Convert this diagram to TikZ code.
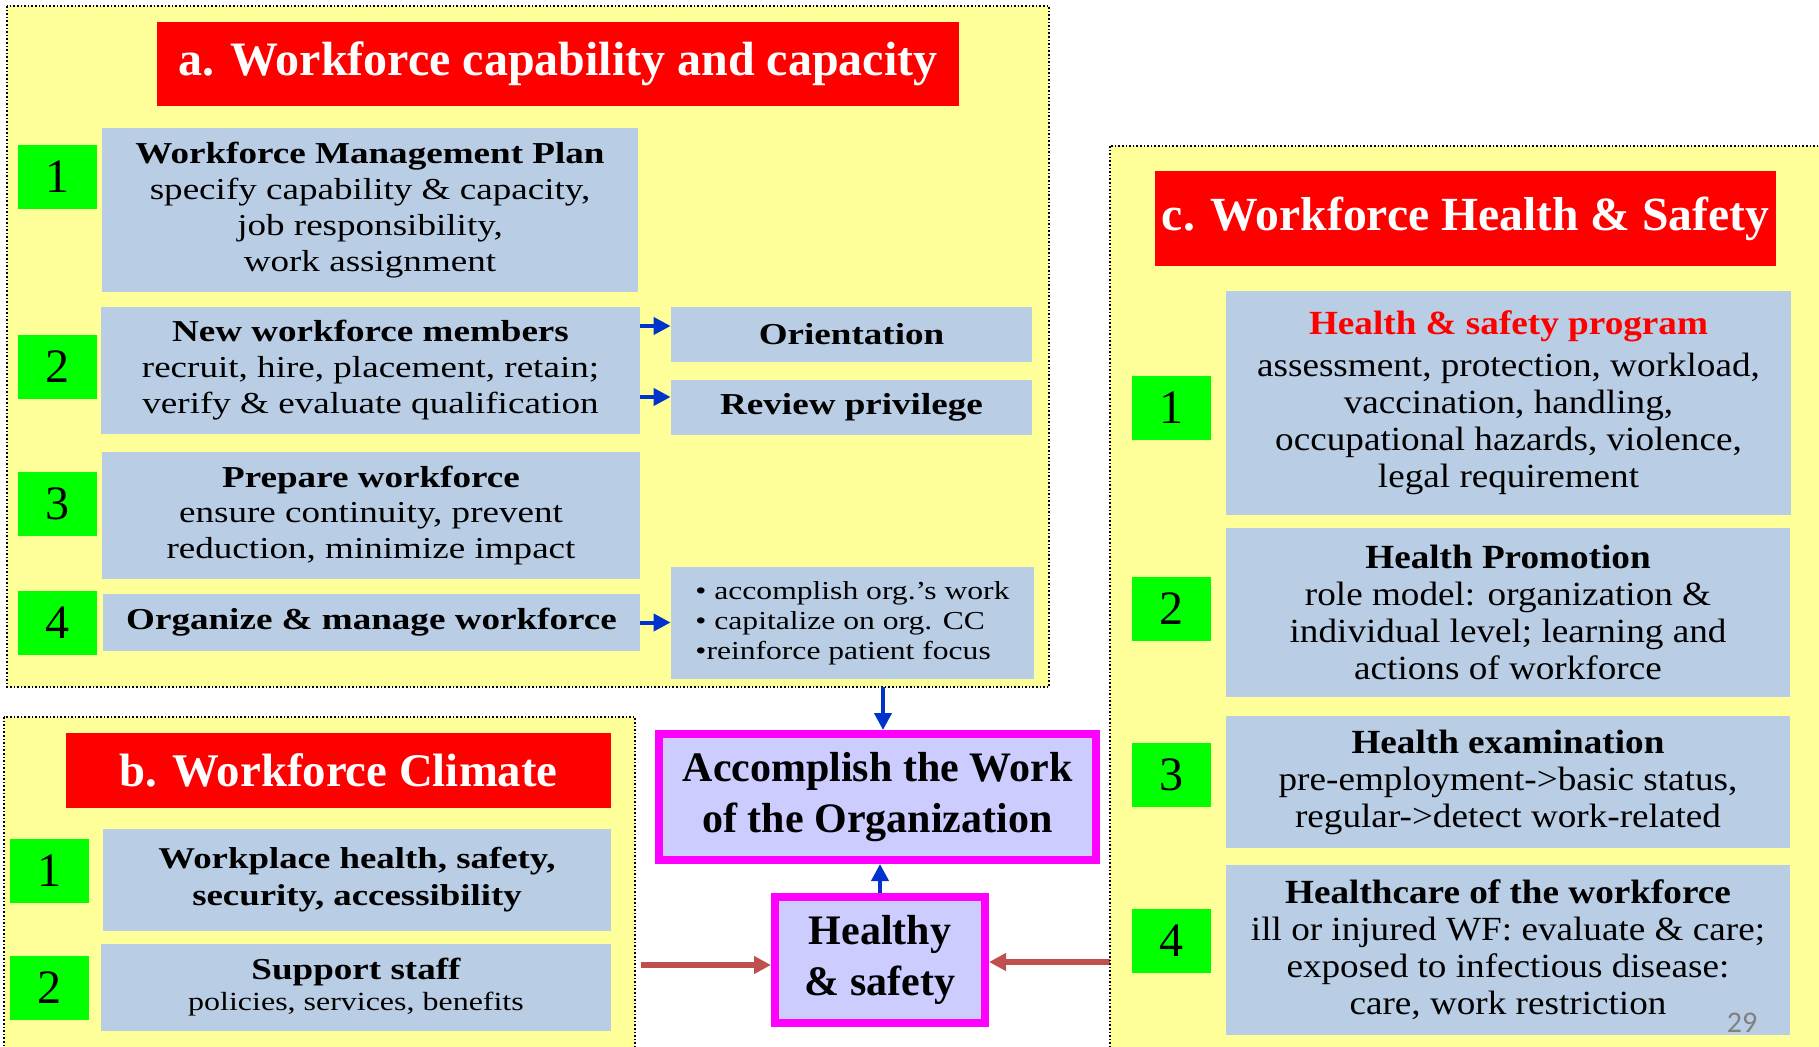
\documentclass[tikz,border=0pt]{standalone}
\usepackage{fontspec}
\setmainfont{Liberation Serif}
\newfontfamily\wfont[FakeStretch=1.22]{Liberation Serif}
\newfontfamily\cfont[FakeStretch=1.1]{Liberation Serif}
\newfontfamily\pnfont{Carlito}
\usetikzlibrary{arrows.meta}
\definecolor{panelyellow}{RGB}{255,255,153}
\definecolor{boxblue}{RGB}{185,205,229}
\definecolor{titlered}{RGB}{255,0,0}
\definecolor{numgreen}{RGB}{0,255,0}
\definecolor{goalfill}{RGB}{204,204,255}
\definecolor{goalline}{RGB}{255,0,255}
\definecolor{arrowblue}{RGB}{0,51,204}
\definecolor{arrowred}{RGB}{192,80,77}
\tikzset{
  panel/.style={fill=panelyellow, draw=black, densely dotted, line width=0.8pt},
  titlebox/.style={fill=titlered, text=white, inner sep=0pt,
    font=\bfseries\fontsize{24}{28}\selectfont},
  numbox/.style={fill=numgreen, minimum width=39.5pt, minimum height=32pt,
    inner sep=0pt, font=\fontsize{24}{28}\selectfont},
  itembox/.style={fill=boxblue, inner sep=0pt, align=center},
  afont/.style={font=\wfont\fontsize{15.2}{18}\selectfont},
  cfontsty/.style={font=\cfont\fontsize{16.9}{18.5}\selectfont},
  goalbox/.style={fill=goalfill, draw=goalline, line width=4pt, inner sep=0pt,
    align=center, font=\bfseries\fontsize{21}{25.5}\selectfont},
  bluearr/.style={->, draw=arrowblue, line width=2pt},
  redarr/.style={->, draw=arrowred, line width=3pt},
}
\begin{document}
\begin{tikzpicture}
  [x=0.5pt, y=-0.5pt, >={Triangle[length=8.5pt,width=8.5pt]}]
  \useasboundingbox (0,0) rectangle (1819,1047);
  % a. capability and capacity
  \draw[panel] (7,6) rectangle (1049,687);
  \node[titlebox, minimum width=401pt, minimum height=42pt] (titleA) at (558,64)
    {a. Workforce capability and capacity};
  \foreach \n/\y in {1/177,2/367,3/504,4/623}
    \node[numbox] (numA\n) at (57,\y) {\n};
  \node[itembox, afont, minimum width=268pt, minimum height=82pt] (planA) at (370,210)
    {\textbf{Workforce Management Plan}\\specify capability \& capacity,\\job responsibility,\\work assignment};
  \node[itembox, afont, minimum width=269.5pt, minimum height=63.5pt] (newwf) at (370.5,370.5)
    {\textbf{New workforce members}\\recruit, hire, placement, retain;\\verify \& evaluate qualification};
  \node[itembox, afont, minimum width=180.5pt, minimum height=27.5pt] (orient) at (851.5,334.5)
    {\textbf{Orientation}};
  \node[itembox, afont, minimum width=180.5pt, minimum height=27.5pt] (review) at (851.5,407.5)
    {\textbf{Review privilege}};
  \node[itembox, afont, font=\wfont\fontsize{15.2}{17.7}\selectfont, minimum width=269pt, minimum height=63.5pt] (prepare) at (371,515.5)
    {\textbf{Prepare workforce}\\ensure continuity, prevent\\reduction, minimize impact};
  \node[itembox, afont, minimum width=268.5pt, minimum height=28.5pt] (organize) at (371.5,622.5)
    {\textbf{Organize \& manage workforce}};
  \node[itembox, align=left, font=\wfont\fontsize{12.95}{15}\selectfont, minimum width=181.5pt, minimum height=56pt] (focus) at (852.5,623)
    {• accomplish org.’s work\\• capitalize on org. CC\\•reinforce patient focus};
  \draw[bluearr] ([yshift=4.25pt]orient.west -| newwf.east) -- ([yshift=4.25pt]orient.west);
  \draw[bluearr] ([yshift=5.25pt]review.west -| newwf.east) -- ([yshift=5.25pt]review.west);
  \draw[bluearr] (organize.east) -- (organize.east -| focus.west);
  % b. climate
  \draw[panel] (4,717) rectangle (635,1060);
  \node[titlebox, font=\bfseries\fontsize{23.4}{28}\selectfont, minimum width=272.5pt, minimum height=37.5pt] (titleB) at (338.5,770.5)
    {b. Workforce Climate};
  \foreach \n/\y in {1/870.5,2/987.5}
    \node[numbox] (numB\n) at (49.5,\y) {\n};
  \node[itembox, font=\wfont\bfseries\fontsize{15.1}{18.5}\selectfont, minimum width=254pt, minimum height=51pt] (safetyB) at (357,880)
    {Workplace health, safety,\\security, accessibility};
  \node[itembox, font=\wfont\fontsize{13.1}{15.5}\selectfont, minimum width=255pt, minimum height=43.5pt] (support) at (356,987.5)
    {{\bfseries\fontsize{15.2}{15.5}\selectfont Support staff}\\policies, services, benefits};
  % goal in the middle
  \node[goalbox, minimum width=218.5pt, minimum height=63pt] (accomp) at (877.5,797)
    {Accomplish the Work\\of the Organization};
  \node[goalbox, minimum width=105pt, minimum height=63pt] (healthy) at (880,960)
    {Healthy\\\& safety};
  \coordinate (downstart) at (883,687);
  \draw[bluearr] (downstart) -- (downstart |- accomp.north);
  \draw[bluearr] (healthy.north) -- (healthy.north |- accomp.south);
  \coordinate (redleft) at (641,965);
  \coordinate (redright) at (1110,962);
  \draw[redarr] (redleft) -- (redleft -| healthy.west);
  \draw[redarr] (redright) -- (redright -| healthy.east);
  % c. health and safety
  \draw[panel] (1110,146) rectangle (1830,1060);
  \node[titlebox, font=\bfseries\fontsize{23.8}{28}\selectfont, minimum width=310.5pt, minimum height=47.5pt] (titleC) at (1465.5,218.5)
    {c. Workforce Health \& Safety};
  \foreach \n/\y in {1/408,2/609,3/775,4/941}
    \node[numbox] (numC\n) at (1171,\y) {\n};
  \node[itembox, cfontsty, minimum width=282.5pt, minimum height=112pt] (progC) at (1508.5,403)
    {{\color{titlered}\bfseries Health \& safety program}\\[2.5pt]assessment, protection, workload,\\vaccination, handling,\\occupational hazards, violence,\\legal requirement};
  \node[itembox, cfontsty, minimum width=282pt, minimum height=84.5pt] (promo) at (1508,612.5)
    {\textbf{Health Promotion}\\role model: organization \&\\individual level; learning and\\actions of workforce};
  \node[itembox, cfontsty, minimum width=282pt, minimum height=66pt] (exam) at (1508,782)
    {\textbf{Health examination}\\pre-employment->basic status,\\regular->detect work-related};
  \node[itembox, cfontsty, minimum width=282pt, minimum height=85pt] (care) at (1508,950)
    {\textbf{Healthcare of the workforce}\\ill or injured WF: evaluate \& care;\\exposed to infectious disease:\\care, work restriction};
  \node[text=gray, font=\pnfont\fontsize{15}{18}\selectfont, inner sep=0pt] (pagenum) at (1742,1023) {29};
\end{tikzpicture}
\end{document}
